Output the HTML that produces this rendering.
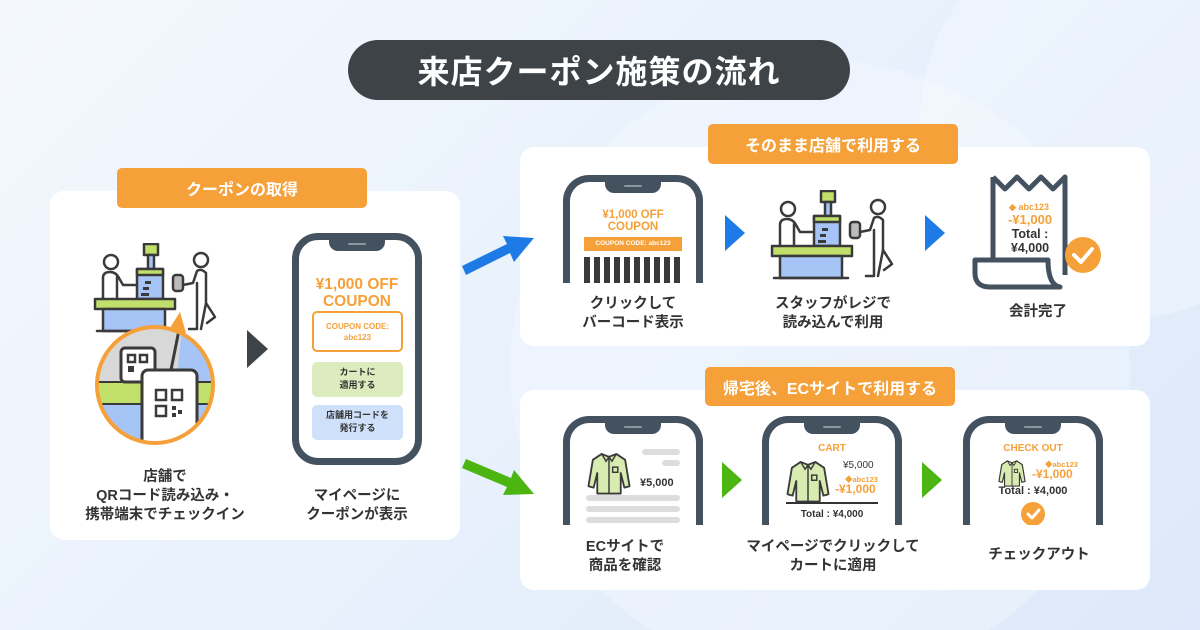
<!DOCTYPE html>
<html><head><meta charset="utf-8">
<style>
*{margin:0;padding:0;box-sizing:border-box}
html,body{width:1200px;height:630px;overflow:hidden}
body{font-family:"Liberation Sans","Noto Sans CJK JP",sans-serif;font-weight:bold;color:#333;position:relative;background:linear-gradient(135deg,#f4f8fd 0%,#e8f1fc 50%,#dde9fa 100%)}
.abs{position:absolute}
svg{display:block}
.card{position:absolute;background:#fff;border-radius:14px}
.badge{position:absolute;background:#f5a038;color:#fff;border-radius:5px;font-size:16px;display:flex;align-items:center;justify-content:center}
.lbl{position:absolute;text-align:center;font-size:14.5px;line-height:19px;color:#333;transform:translateX(-50%);white-space:nowrap}
.phone{position:absolute;border:7px solid #445260;border-radius:26px;background:#fff;overflow:hidden}
.cut{border-bottom:none;border-bottom-left-radius:0;border-bottom-right-radius:0}
.notch{position:absolute;left:50%;top:-1px;width:56px;height:12px;margin-left:-28px;background:#445260;border-radius:0 0 9px 9px}
.notch:after{content:"";position:absolute;left:19px;top:4px;width:18px;height:2px;background:#8a96a2;border-radius:1px}
.or{color:#f5a038}
.tri{position:absolute;width:0;height:0;border-top:18px solid transparent;border-bottom:18px solid transparent}
</style></head><body>
<svg class="abs" style="left:0;top:0" width="1200" height="630">
<defs>
<symbol id="reg" viewBox="0 0 125 92">
<g stroke="#3a3a3a" stroke-width="2.5" stroke-linejoin="round" stroke-linecap="round">
<rect x="51" y="1" width="14" height="11" fill="#c1e06b"/>
<rect x="55" y="12" width="6" height="16" fill="#a6c4f5"/>
<rect x="44" y="26" width="26" height="30" fill="#a6c4f5"/>
<rect x="44" y="26" width="26" height="6" fill="#c1e06b"/>
<rect x="2" y="56" width="80" height="10" fill="#c1e06b"/>
<rect x="10" y="66" width="62" height="22" fill="#a6c4f5"/>
<line x1="4" y1="88" x2="78" y2="88"/>
<circle cx="18" cy="19" r="7" fill="#fff"/>
<path d="M10 56 V35 Q10 29 17 29 Q23 29 26 35 L30 42 H42 M24 34 V56" fill="none"/>
<rect x="80" y="32" width="10" height="16" rx="3" fill="#bbb"/>
<circle cx="108" cy="17" r="7" fill="#fff"/>
<path d="M90 42 L100 40 L104 28 Q108 25 113 30 V60 L122 74 L114 80 M104 40 V86 H96 M113 60 L108 86" fill="none"/>
</g>
<g fill="#3a3a3a"><rect x="52" y="38" width="6" height="3"/><rect x="50" y="44" width="6" height="3"/><rect x="48" y="50" width="8" height="3"/></g>
</symbol>
<symbol id="shirt" viewBox="0 0 60 60">
<path d="M20 4 L30 8 L40 4 L52 12 L58 48 L51 50 L46 30 V58 H14 V30 L9 50 L2 48 L8 12 Z" fill="#d8ebb0" stroke="#3a3a3a" stroke-width="2.5" stroke-linejoin="round"/>
<path d="M20 4 L26 14 L30 8 L34 14 L40 4 M30 8 V58" fill="none" stroke="#3a3a3a" stroke-width="2"/>
<rect x="35" y="22" width="7" height="7" fill="none" stroke="#3a3a3a" stroke-width="2"/>
</symbol>
<clipPath id="cc"><circle cx="155" cy="385" r="58"/></clipPath>
</defs>
<circle cx="820" cy="370" r="310" fill="#fff" opacity=".25"/>
<circle cx="1120" cy="120" r="200" fill="#fff" opacity=".25"/>
</svg>

<div class="abs" style="left:348px;top:40px;width:502px;height:60px;border-radius:30px;background:#3d4347;color:#fff;font-size:32px;display:flex;align-items:center;justify-content:center;letter-spacing:1px">来店クーポン施策の流れ</div>

<!-- left card -->
<div class="card" style="left:50px;top:191px;width:410px;height:349px"></div>
<div class="badge" style="left:117px;top:168px;width:250px;height:40px">クーポンの取得</div>
<svg class="abs" style="left:0;top:0" width="1200" height="630">
<use href="#reg" x="93" y="243" width="125" height="92"/>
<path d="M168 331 L180 312 L186 333 Z" fill="#f5a038"/>
<g clip-path="url(#cc)">
<rect x="95" y="325" width="120" height="120" fill="#a6c4f5"/>
<path d="M95 325 H182 L175 400 H95 Z" fill="#d8d8d8"/>
<rect x="95" y="382" width="120" height="22" fill="#c1e06b" stroke="#3a3a3a" stroke-width="2"/>
<line x1="180" y1="325" x2="170" y2="375" stroke="#3a3a3a" stroke-width="3"/>
<rect x="121" y="348" width="34" height="34" rx="4" fill="#fff" stroke="#3a3a3a" stroke-width="3"/>
<rect x="142" y="370" width="55" height="80" rx="6" fill="#fff" stroke="#3a3a3a" stroke-width="3"/>
<g fill="none" stroke="#3a3a3a" stroke-width="2.5"><rect x="156" y="390" width="10" height="10"/><rect x="172" y="390" width="10" height="10"/><rect x="156" y="406" width="10" height="10"/><rect x="128" y="355" width="7" height="7"/><rect x="140" y="355" width="7" height="7"/></g>
<g fill="#3a3a3a"><rect x="172" y="406" width="4" height="4"/><rect x="178" y="410" width="4" height="4"/><rect x="172" y="413" width="4" height="4"/><rect x="128" y="366" width="6" height="6"/></g>
</g>
<circle cx="155" cy="385" r="58" fill="none" stroke="#f5a038" stroke-width="4"/>
<path d="M247 330 L268 349 L247 368 Z" fill="#3d4347"/>
</svg>
<div class="phone" style="left:292px;top:233px;width:130px;height:232px">
<div class="notch"></div>
<div class="abs or" style="left:0;width:116px;top:36px;text-align:center;font-size:15.5px;line-height:17px">¥1,000 OFF<br>COUPON</div>
<div class="abs or" style="left:13px;top:71px;width:91px;height:41px;border:2px solid #f5a038;border-radius:5px;font-size:8px;line-height:11px;text-align:center;padding-top:8px">COUPON CODE:<br>abc123</div>
<div class="abs" style="left:13px;top:122px;width:91px;height:35px;background:#ddecbf;border-radius:5px;font-size:9px;line-height:13px;text-align:center;padding-top:4px">カートに<br>適用する</div>
<div class="abs" style="left:13px;top:165px;width:91px;height:35px;background:#cfe0fb;border-radius:5px;font-size:9px;line-height:13px;text-align:center;padding-top:4px">店舗用コードを<br>発行する</div>
</div>
<div class="lbl" style="left:165px;top:468px">店舗で<br>QRコード読み込み・<br>携帯端末でチェックイン</div>
<div class="lbl" style="left:357px;top:487px">マイページに<br>クーポンが表示</div>

<!-- top right card -->
<div class="card" style="left:520px;top:147px;width:630px;height:199px"></div>
<div class="badge" style="left:708px;top:124px;width:250px;height:40px">そのまま店舗で利用する</div>
<div class="phone cut" style="left:563px;top:175px;width:140px;height:108px">
<div class="notch"></div>
<div class="abs or" style="left:0;width:126px;top:27px;text-align:center;font-size:11.5px;line-height:12px">¥1,000 OFF<br>COUPON</div>
<div class="abs" style="left:14px;top:55px;width:98px;height:14px;background:#f5a038;color:#fff;font-size:6.5px;line-height:14px;text-align:center">COUPON CODE: abc123</div>
<div class="abs" style="left:14px;top:75px;width:98px;height:26px;background:repeating-linear-gradient(90deg,#3a3a3a 0 6px,#fff 6px 10px)"></div>
</div>
<div class="tri" style="left:725px;top:215px;border-left:20px solid #1e7be6"></div>
<svg class="abs" style="left:770px;top:190px" width="125" height="92"><use href="#reg" width="125" height="92"/></svg>
<div class="tri" style="left:925px;top:215px;border-left:20px solid #1e7be6"></div>
<svg class="abs" style="left:960px;top:165px" width="150" height="130">
<path d="M33 12 L45 24 L57 12 L69 24 L81 12 L93 24 L105 12 V110 M33 12 V95" fill="#fff" stroke="#445260" stroke-width="5" stroke-linejoin="round"/>
<path d="M33 95 H88 Q88 120 100 122 H30 Q15 122 15 108 V95 Z" fill="#fff" stroke="#445260" stroke-width="5" stroke-linejoin="round"/>
<circle cx="123" cy="90" r="18" fill="#f5a038"/>
<path d="M114 90 L121 97 L132 84" fill="none" stroke="#fff" stroke-width="4" stroke-linecap="round" stroke-linejoin="round"/>
<text x="69" y="45" font-size="9" fill="#f5a038" text-anchor="middle" font-family="Liberation Sans" font-weight="bold">◆ abc123</text>
<text x="70" y="59" font-size="13" fill="#f5a038" text-anchor="middle" font-family="Liberation Sans" font-weight="bold">-¥1,000</text>
<text x="70" y="73" font-size="12.5" fill="#333" text-anchor="middle" font-family="Liberation Sans" font-weight="bold">Total :</text>
<text x="70" y="87" font-size="12.5" fill="#333" text-anchor="middle" font-family="Liberation Sans" font-weight="bold">¥4,000</text>
</svg>
<div class="lbl" style="left:633px;top:295px">クリックして<br>バーコード表示</div>
<div class="lbl" style="left:833px;top:295px">スタッフがレジで<br>読み込んで利用</div>
<div class="lbl" style="left:1038px;top:303px">会計完了</div>

<!-- bottom right card -->
<div class="card" style="left:520px;top:390px;width:630px;height:200px"></div>
<div class="badge" style="left:705px;top:367px;width:250px;height:39px">帰宅後、ECサイトで利用する</div>
<div class="phone cut" style="left:563px;top:416px;width:140px;height:109px">
<div class="notch"></div>
<svg class="abs" style="left:17px;top:28px" width="44" height="44"><use href="#shirt" width="44" height="44"/></svg>
<div class="abs" style="left:72px;top:26px;width:38px;height:6px;background:#ddd;border-radius:3px"></div>
<div class="abs" style="left:92px;top:37px;width:18px;height:6px;background:#ddd;border-radius:3px"></div>
<div class="abs" style="left:70px;top:54px;font-size:11px">¥5,000</div>
<div class="abs" style="left:16px;top:72px;width:94px;height:6px;background:#ddd;border-radius:3px"></div>
<div class="abs" style="left:16px;top:83px;width:94px;height:6px;background:#ddd;border-radius:3px"></div>
<div class="abs" style="left:16px;top:94px;width:94px;height:6px;background:#ddd;border-radius:3px"></div>
</div>
<div class="tri" style="left:722px;top:462px;border-left:20px solid #4cb512"></div>
<div class="phone cut" style="left:762px;top:416px;width:140px;height:109px">
<div class="notch"></div>
<div class="abs or" style="left:0;width:126px;top:20px;text-align:center;font-size:10px">CART</div>
<svg class="abs" style="left:17px;top:36px" width="44" height="44"><use href="#shirt" width="44" height="44"/></svg>
<div class="abs" style="left:74px;top:37px;font-size:10px;font-weight:normal">¥5,000</div>
<div class="abs or" style="left:76px;top:51px;font-size:7.5px">◆abc123</div>
<div class="abs or" style="left:66px;top:59px;font-size:12px">-¥1,000</div>
<div class="abs" style="left:17px;top:79px;width:92px;height:1.5px;background:#333"></div>
<div class="abs" style="left:0;width:126px;top:86px;text-align:center;font-size:10px">Total : ¥4,000</div>
</div>
<div class="tri" style="left:922px;top:462px;border-left:20px solid #4cb512"></div>
<div class="phone cut" style="left:963px;top:416px;width:140px;height:109px">
<div class="notch"></div>
<div class="abs or" style="left:0;width:126px;top:20px;text-align:center;font-size:10px">CHECK OUT</div>
<svg class="abs" style="left:28px;top:36px" width="28" height="28"><use href="#shirt" width="28" height="28"/></svg>
<div class="abs or" style="left:75px;top:36px;font-size:7.5px">◆abc123</div>
<div class="abs or" style="left:62px;top:44px;font-size:12px">-¥1,000</div>
<div class="abs" style="left:0;width:126px;top:62px;text-align:center;font-size:11px">Total : ¥4,000</div>
<div class="abs" style="left:51px;top:79px;width:24px;height:24px;border-radius:50%;background:#f5a038"></div>
<svg class="abs" style="left:51px;top:79px" width="24" height="24"><path d="M7 12 L11 16 L18 8" fill="none" stroke="#fff" stroke-width="3" stroke-linecap="round" stroke-linejoin="round"/></svg>
</div>
<div class="lbl" style="left:625px;top:538px">ECサイトで<br>商品を確認</div>
<div class="lbl" style="left:833px;top:538px">マイページでクリックして<br>カートに適用</div>
<div class="lbl" style="left:1039px;top:546px">チェックアウト</div>

<!-- big arrows on top -->
<svg class="abs" style="left:0;top:0;z-index:5" width="1200" height="630">
<path d="M462 266 L507 244 L503 236 L534 238 L514 262 L510 253 L466 275 Z" fill="#1e7be6"/>
<path d="M462 468 L507 487 L503 495 L534 494 L514 470 L511 478 L466 459 Z" fill="#4cb512"/>
</svg>
</body></html>
